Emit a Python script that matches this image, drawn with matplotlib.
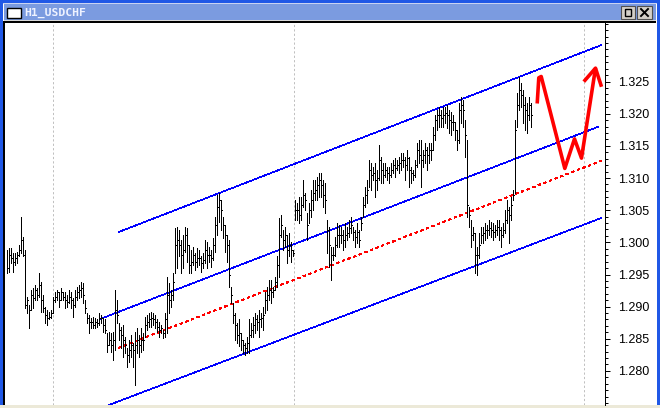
import numpy as np
import matplotlib
matplotlib.use("Agg")
import matplotlib.pyplot as plt
from matplotlib.collections import LineCollection
from matplotlib.patches import Rectangle
from matplotlib.lines import Line2D
from matplotlib.ticker import MultipleLocator, FixedLocator, FormatStrFormatter

# ---------------- data (H1 USDCHF bars) ----------------
high = [
    1.2988, 1.2992, 1.2992, 1.2984, 1.2984, 1.2985, 1.2996, 1.3040, 1.3009, 1.2988,
    1.2915, 1.2903, 1.2926, 1.2929, 1.2934, 1.2929, 1.2953, 1.2939, 1.2918, 1.2900,
    1.2895, 1.2892, 1.2895, 1.2915, 1.2923, 1.2926, 1.2923, 1.2929, 1.2922, 1.2923,
    1.2918, 1.2926, 1.2922, 1.2914, 1.2926, 1.2931, 1.2934, 1.2939, 1.2937, 1.2911,
    1.2890, 1.2887, 1.2883, 1.2884, 1.2883, 1.2880, 1.2890, 1.2887, 1.2883, 1.2880,
    1.2859, 1.2861, 1.2859, 1.2861, 1.2926, 1.2911, 1.2875, 1.2869, 1.2872, 1.2853,
    1.2836, 1.2848, 1.2856, 1.2844, 1.2861, 1.2867, 1.2856, 1.2867, 1.2859, 1.2884,
    1.2887, 1.2890, 1.2892, 1.2890, 1.2887, 1.2880, 1.2876, 1.2872, 1.2864, 1.2890,
    1.2946, 1.2937, 1.2926, 1.2953, 1.3023, 1.3024, 1.3019, 1.3004, 1.3012, 1.3024,
    1.3023, 1.2996, 1.2988, 1.2993, 1.2984, 1.2992, 1.2988, 1.2978, 1.2984, 1.3004,
    1.3001, 1.2993, 1.2988, 1.3007, 1.3040, 1.3074, 1.3077, 1.3066, 1.3040, 1.3027,
    1.3012, 1.3004, 1.2931, 1.2906, 1.2890, 1.2875, 1.2880, 1.2859, 1.2848, 1.2844,
    1.2853, 1.2880, 1.2875, 1.2884, 1.2890, 1.2887, 1.2895, 1.2890, 1.2900, 1.2922,
    1.2931, 1.2942, 1.2942, 1.2931, 1.2946, 1.2978, 1.3038, 1.3043, 1.3019, 1.3024,
    1.3012, 1.3015, 1.3001, 1.2988, 1.3066, 1.3061, 1.3071, 1.3071, 1.3097, 1.3077,
    1.3046, 1.3061, 1.3082, 1.3097, 1.3097, 1.3102, 1.3108, 1.3108, 1.3097, 1.3093,
    1.3035, 1.3024, 1.2993, 1.2993, 1.3009, 1.3030, 1.3027, 1.3024, 1.3019, 1.3030,
    1.3024, 1.3035, 1.3040, 1.3024, 1.3019, 1.3030, 1.3019, 1.3040, 1.3071, 1.3086,
    1.3097, 1.3128, 1.3124, 1.3117, 1.3124, 1.3113, 1.3152, 1.3133, 1.3124, 1.3124,
    1.3117, 1.3117, 1.3124, 1.3128, 1.3131, 1.3128, 1.3133, 1.3139, 1.3139, 1.3133,
    1.3144, 1.3133, 1.3117, 1.3113, 1.3128, 1.3155, 1.3159, 1.3159, 1.3144, 1.3155,
    1.3149, 1.3155, 1.3155, 1.3180, 1.3198, 1.3206, 1.3211, 1.3206, 1.3211, 1.3211,
    1.3214, 1.3206, 1.3203, 1.3198, 1.3187, 1.3175, 1.3217, 1.3226, 1.3222, 1.3191,
    1.3159, 1.3055, 1.3035, 1.3024, 1.3015, 1.2993, 1.3015, 1.3024, 1.3024, 1.3030,
    1.3027, 1.3035, 1.3032, 1.3030, 1.3027, 1.3035, 1.3035, 1.3024, 1.3030, 1.3051,
    1.3066, 1.3055, 1.3071, 1.3082, 1.3191, 1.3233, 1.3257, 1.3248, 1.3237, 1.3226,
    1.3217, 1.3226, 1.3217,
]
low = [
    1.2953, 1.2954, 1.2968, 1.2954, 1.2965, 1.2968, 1.2978, 1.2984, 1.2978, 1.2898,
    1.2890, 1.2867, 1.2895, 1.2898, 1.2911, 1.2911, 1.2915, 1.2892, 1.2892, 1.2875,
    1.2872, 1.2880, 1.2883, 1.2890, 1.2908, 1.2911, 1.2900, 1.2911, 1.2911, 1.2898,
    1.2900, 1.2906, 1.2898, 1.2884, 1.2900, 1.2911, 1.2914, 1.2915, 1.2906, 1.2890,
    1.2875, 1.2859, 1.2867, 1.2867, 1.2867, 1.2869, 1.2872, 1.2875, 1.2861, 1.2859,
    1.2830, 1.2841, 1.2830, 1.2817, 1.2833, 1.2875, 1.2848, 1.2836, 1.2822, 1.2828,
    1.2806, 1.2814, 1.2822, 1.2806, 1.2778, 1.2828, 1.2822, 1.2830, 1.2833, 1.2853,
    1.2864, 1.2869, 1.2869, 1.2872, 1.2867, 1.2861, 1.2853, 1.2859, 1.2852, 1.2853,
    1.2859, 1.2890, 1.2900, 1.2911, 1.2953, 1.2960, 1.2978, 1.2953, 1.2960, 1.2985,
    1.2970, 1.2953, 1.2953, 1.2965, 1.2957, 1.2962, 1.2965, 1.2954, 1.2960, 1.2968,
    1.2960, 1.2970, 1.2962, 1.2973, 1.2985, 1.3012, 1.3032, 1.3019, 1.3007, 1.2985,
    1.2970, 1.2931, 1.2906, 1.2875, 1.2848, 1.2844, 1.2838, 1.2833, 1.2828, 1.2825,
    1.2828, 1.2828, 1.2853, 1.2853, 1.2859, 1.2864, 1.2853, 1.2869, 1.2864, 1.2890,
    1.2895, 1.2911, 1.2906, 1.2915, 1.2926, 1.2931, 1.2946, 1.3009, 1.2988, 1.2993,
    1.2968, 1.2978, 1.2970, 1.2978, 1.3035, 1.3035, 1.3030, 1.3035, 1.3055, 1.3051,
    1.3004, 1.3030, 1.3040, 1.3051, 1.3066, 1.3066, 1.3071, 1.3071, 1.3055, 1.3046,
    1.2984, 1.2962, 1.2942, 1.2973, 1.2978, 1.2993, 1.2993, 1.2999, 1.2988, 1.2993,
    1.3004, 1.3009, 1.3015, 1.3004, 1.2993, 1.2999, 1.2993, 1.3019, 1.3040, 1.3055,
    1.3061, 1.3086, 1.3082, 1.3097, 1.3071, 1.3082, 1.3097, 1.3093, 1.3093, 1.3102,
    1.3097, 1.3093, 1.3102, 1.3108, 1.3102, 1.3113, 1.3108, 1.3113, 1.3117, 1.3097,
    1.3113, 1.3086, 1.3093, 1.3097, 1.3102, 1.3117, 1.3124, 1.3086, 1.3117, 1.3124,
    1.3113, 1.3124, 1.3128, 1.3144, 1.3159, 1.3175, 1.3180, 1.3180, 1.3180, 1.3186,
    1.3178, 1.3170, 1.3167, 1.3175, 1.3159, 1.3144, 1.3155, 1.3186, 1.3180, 1.3133,
    1.3040, 1.3024, 1.2993, 1.3004, 1.2953, 1.2950, 1.2976, 1.2999, 1.2999, 1.3004,
    1.3007, 1.3012, 1.3009, 1.3004, 1.3009, 1.3012, 1.3004, 1.2993, 1.3009, 1.3015,
    1.3030, 1.2999, 1.3035, 1.3066, 1.3077, 1.3180, 1.3206, 1.3211, 1.3186, 1.3175,
    1.3170, 1.3191, 1.3180,
]
close = [
    1.2960, 1.2981, 1.2976, 1.2970, 1.2976, 1.2981, 1.2988, 1.3004, 1.2981, 1.2903,
    1.2911, 1.2895, 1.2918, 1.2914, 1.2926, 1.2918, 1.2934, 1.2911, 1.2898, 1.2887,
    1.2883, 1.2884, 1.2890, 1.2911, 1.2915, 1.2922, 1.2911, 1.2923, 1.2915, 1.2911,
    1.2908, 1.2915, 1.2911, 1.2903, 1.2915, 1.2923, 1.2926, 1.2929, 1.2918, 1.2898,
    1.2883, 1.2876, 1.2876, 1.2872, 1.2876, 1.2875, 1.2883, 1.2883, 1.2872, 1.2864,
    1.2841, 1.2848, 1.2841, 1.2848, 1.2895, 1.2887, 1.2864, 1.2856, 1.2848, 1.2841,
    1.2825, 1.2833, 1.2841, 1.2833, 1.2841, 1.2848, 1.2841, 1.2848, 1.2848, 1.2872,
    1.2876, 1.2880, 1.2883, 1.2880, 1.2876, 1.2869, 1.2864, 1.2867, 1.2859, 1.2880,
    1.2918, 1.2911, 1.2918, 1.2939, 1.2996, 1.3004, 1.2996, 1.2981, 1.2988, 1.3012,
    1.2996, 1.2965, 1.2970, 1.2981, 1.2970, 1.2976, 1.2976, 1.2968, 1.2973, 1.2988,
    1.2981, 1.2981, 1.2976, 1.2996, 1.3027, 1.3055, 1.3066, 1.3051, 1.3027, 1.3012,
    1.2996, 1.2950, 1.2918, 1.2887, 1.2872, 1.2856, 1.2859, 1.2848, 1.2841, 1.2836,
    1.2844, 1.2856, 1.2864, 1.2872, 1.2880, 1.2876, 1.2880, 1.2883, 1.2887, 1.2911,
    1.2918, 1.2926, 1.2923, 1.2926, 1.2939, 1.2965, 1.3012, 1.3027, 1.3004, 1.3012,
    1.2988, 1.2996, 1.2988, 1.2984, 1.3051, 1.3051, 1.3043, 1.3058, 1.3074, 1.3066,
    1.3027, 1.3051, 1.3066, 1.3077, 1.3082, 1.3089, 1.3097, 1.3089, 1.3074, 1.3066,
    1.3019, 1.2996, 1.2981, 1.2981, 1.2996, 1.3012, 1.3012, 1.3012, 1.3004, 1.3012,
    1.3015, 1.3023, 1.3027, 1.3016, 1.3009, 1.3016, 1.3004, 1.3030, 1.3058, 1.3074,
    1.3082, 1.3113, 1.3105, 1.3108, 1.3097, 1.3100, 1.3128, 1.3113, 1.3105, 1.3113,
    1.3108, 1.3105, 1.3113, 1.3121, 1.3116, 1.3121, 1.3124, 1.3128, 1.3128, 1.3121,
    1.3131, 1.3113, 1.3108, 1.3105, 1.3121, 1.3144, 1.3136, 1.3128, 1.3136, 1.3144,
    1.3136, 1.3144, 1.3144, 1.3167, 1.3191, 1.3198, 1.3198, 1.3194, 1.3198, 1.3201,
    1.3198, 1.3191, 1.3187, 1.3187, 1.3175, 1.3159, 1.3206, 1.3214, 1.3206, 1.3167,
    1.3058, 1.3043, 1.3012, 1.3015, 1.2981, 1.2981, 1.2996, 1.3012, 1.3015, 1.3019,
    1.3019, 1.3023, 1.3019, 1.3016, 1.3019, 1.3024, 1.3019, 1.3012, 1.3019, 1.3035,
    1.3051, 1.3043, 1.3058, 1.3074, 1.3175, 1.3214, 1.3237, 1.3229, 1.3214, 1.3206,
    1.3198, 1.3214, 1.3198,
]

# channel lines (bar index, price)
upper_x, upper_y = [56, 297.5], [1.3016, 1.3307]
middle_x, middle_y = [47, 296], [1.2881, 1.3180]
median_x, median_y = [56, 297.5], [1.2836, 1.3127]
lower_x, lower_y = [49.5, 297.5], [1.2745, 1.3038]

# hand-drawn red forecast arrow
arrow_x = [265.35, 266.15, 267.35, 279.15, 284.0, 287.5, 294.5]
arrow_y = [1.3216, 1.3256, 1.3258, 1.3115, 1.3161, 1.3131, 1.3271]
head_x = [288.65, 294.5, 297.5]
head_y = [1.3250, 1.3271, 1.3242]

grid_x = [23, 143.5, 288.5]
label_prices = [1.280, 1.285, 1.290, 1.295, 1.300, 1.305, 1.310, 1.315, 1.320, 1.325]
y_top, y_bottom = 1.3342, 1.2747

# ---------------- figure / window chrome ----------------
W, H = 660, 408
fig = plt.figure(figsize=(W / 100, H / 100), dpi=100, facecolor="#2058e6")


def rect(x0, y0, x1, y1, **kw):
    fig.patches.append(Rectangle((x0 / W, 1 - y1 / H), (x1 - x0) / W, (y1 - y0) / H,
                                 transform=fig.transFigure, figure=fig, zorder=-5, **kw))


rect(3, 3, 657, 406, fc="white", lw=0)               # window interior
rect(3, 3, 657, 4, fc="#c9d3f2", lw=0)
rect(4, 4, 656, 20, fc="#7b9be0", lw=0)              # title bar
rect(4, 20, 656, 21, fc="#d8d8d8", lw=0)
rect(4, 21, 656, 22.5, fc="black", lw=0)             # chart frame top
rect(3, 21, 5, 405, fc="black", lw=0)                # chart frame left
rect(0, 405, 660, 408, fc="#ece9d8", lw=0)           # bottom strip

# small window icon + title
rect(7, 8.5, 21, 18, fc="white", ec="black", lw=1.0)
fig.text(24 / W, 1 - 12.5 / H, "H1_USDCHF", color="#eef2ff", fontsize=8.2,
         family=["DejaVu Sans Mono"], weight="bold", va="center", ha="left")

# title buttons
for bx in (620.5, 637):
    rect(bx, 6.5, bx + 14.5, 18.5, fc="#d4d0c8", ec="#505050", lw=0.8)
rect(624.5, 9, 631, 16, fc="none", ec="black", lw=1.0)
rect(624.5, 9, 631, 10, fc="black", lw=0)
fig.lines.append(Line2D([641 / W, 648 / W], [1 - 9 / H, 1 - 16 / H], color="black",
                        lw=1.4, transform=fig.transFigure))
fig.lines.append(Line2D([641 / W, 648 / W], [1 - 16 / H, 1 - 9 / H], color="black",
                        lw=1.4, transform=fig.transFigure))

# ---------------- chart axes ----------------
ax = fig.add_axes([5 / W, 1 - 405 / H, 600 / W, (405 - 22.5) / H])
ax.set_facecolor("white")
ax.set_xlim(-0.75, 299.25)
ax.set_ylim(y_bottom, y_top)

for s in ("left", "top", "bottom"):
    ax.spines[s].set_visible(False)
ax.spines["right"].set_color("black")
ax.spines["right"].set_linewidth(0.72)

ax.yaxis.tick_right()
ax.yaxis.set_major_locator(FixedLocator(label_prices))
ax.yaxis.set_major_formatter(FormatStrFormatter("%.3f"))
ax.yaxis.set_minor_locator(MultipleLocator(0.001))
ax.tick_params(axis="y", which="major", direction="out", length=3.8, width=0.72,
               color="black", labelsize=9, pad=5.5, labelcolor="black")
ax.tick_params(axis="y", which="minor", direction="out", length=2.3, width=0.72,
               color="black")
for lab in ax.get_yticklabels():
    lab.set_family(["Liberation Sans", "DejaVu Sans"])
ax.set_xticks([])

# vertical grid
for gx in grid_x:
    ax.axvline(gx, color="#c0c0c0", lw=0.72, linestyle=(0, (2.2, 2.2)), zorder=1)

# bars
idx = np.arange(len(high))
hi = np.array(high)
lo = np.array(low)
cl = np.array(close)
segs = [[(i, l), (i, h)] for i, l, h in zip(idx, lo, hi)]
segs += [[(i, c), (i + 0.5, c)] for i, c in zip(idx, cl)]
lc = LineCollection(segs, colors="black", linewidths=0.5, antialiaseds=False, zorder=3)
ax.add_collection(lc)

# channel lines
for xs, ys in ((upper_x, upper_y), (middle_x, middle_y), (lower_x, lower_y)):
    ax.plot(xs, ys, color="#0000ff", lw=0.45, antialiased=False, zorder=2)
ax.plot(median_x, median_y, color="#ff0000", lw=0.45, linestyle=(0, (4.0, 6.0)),
        antialiased=False, zorder=2)

# red arrow
ax.plot(arrow_x, arrow_y, color="#ff0000", lw=2.6, solid_joinstyle="round",
        solid_capstyle="butt", zorder=4)
ax.plot(head_x, head_y, color="#ff0000", lw=2.6, solid_joinstyle="round",
        solid_capstyle="butt", zorder=4)

fig.savefig("out.png", dpi=100, facecolor=fig.get_facecolor())
